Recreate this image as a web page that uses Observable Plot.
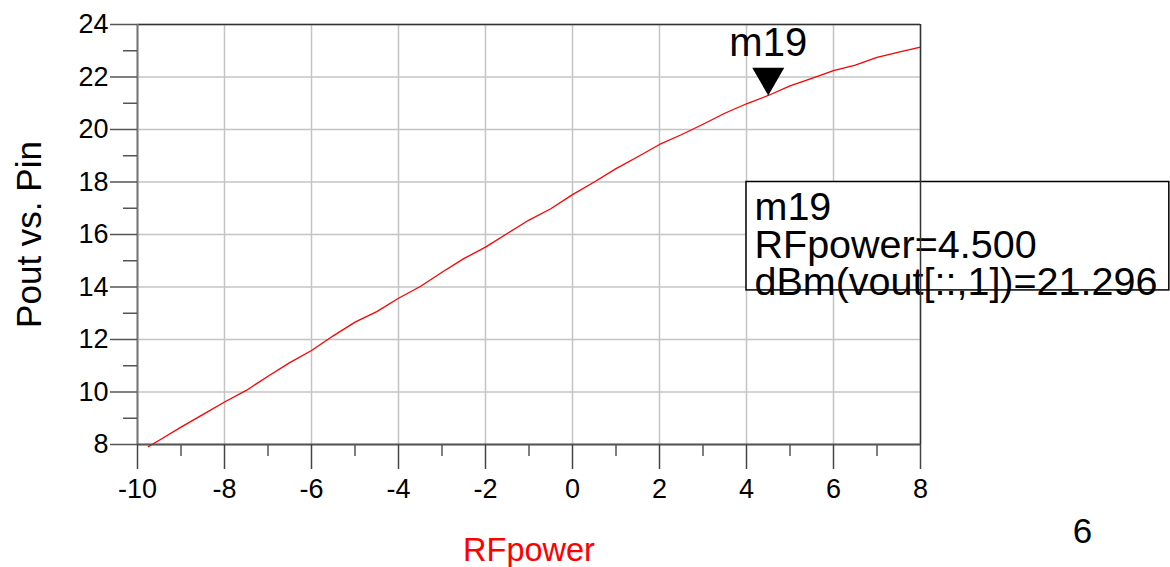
<!DOCTYPE html>
<html>
<head>
<meta charset="utf-8">
<script src="https://cdn.jsdelivr.net/npm/d3@7"></script>
<script src="https://cdn.jsdelivr.net/npm/@observablehq/plot@0.6"></script>
<style>
  html, body { margin: 0; padding: 0; background: #fff; }
  svg { display: block; }
</style>
</head>
<body>
<div id="chart"></div>
<script>
// ---- data ----
const rfPower = [-9.75, -9.5, -9, -8.5, -8, -7.5, -7, -6.5, -6, -5.5, -5, -4.5, -4, -3.5, -3, -2.5, -2, -1.5, -1, -0.5, 0, 0.5, 1, 1.5, 2, 2.5, 3, 3.5, 4, 4.5, 5, 5.5, 6, 6.5, 7, 7.5, 8];
const poutDbm = [7.92, 8.16, 8.66, 9.14, 9.62, 10.06, 10.6, 11.12, 11.58, 12.14, 12.66, 13.06, 13.57, 14.02, 14.56, 15.08, 15.52, 16.04, 16.55, 16.98, 17.52, 18.0, 18.51, 18.96, 19.43, 19.8, 20.2, 20.62, 20.98, 21.296, 21.66, 21.95, 22.24, 22.45, 22.75, 22.95, 23.14];
const xMajorTicks = [-10, -8, -6, -4, -2, 0, 2, 4, 6, 8];
const xMinorTicks = [-9, -7, -5, -3, -1, 1, 3, 5, 7];
const yMajorTicks = [8, 10, 12, 14, 16, 18, 20, 22, 24];
const yMinorTicks = [9, 11, 13, 15, 17, 19, 21, 23];
const markerName = "m19";
const markerX = 4.5;
const markerY = 21.296;
const readoutLines = [markerName, "RFpower=4.500", "dBm(vout[::,1])=21.296"];
const xTitle = "RFpower";
const yTitle = "Pout vs. Pin";
const pageNumber = "6";

const curve = rfPower.map((x, i) => ({x, y: poutDbm[i]}));
const marker = [{x: markerX, y: markerY}];
// readout box anchored at grid corner (x=4, y=18) and extended to the right
const box = [{x1: 4, y1: 18, x2: 13.72, y2: 13.87}];

const font = "'Liberation Sans', Arial, sans-serif";
const plain = d => String(d);

const readoutMarks = readoutLines.map((t, i) =>
  Plot.text([t], {
    x: () => box[0].x1, y: () => box[0].y1, text: d => d,
    textAnchor: "start", lineAnchor: "bottom", dx: 8,
    dy: 38 + i * 37.5, fontSize: 39.5, fill: "#000"
  })
);

const chart = Plot.plot({
  width: 1170,
  height: 567,
  marginLeft: 137,
  marginRight: 250,
  marginTop: 24,
  marginBottom: 123,
  style: {fontFamily: font, background: "#fff", color: "#000", overflow: "visible"},
  x: {domain: [-10, 8]},
  y: {domain: [8, 24]},
  marks: [
    Plot.gridX(xMajorTicks, {stroke: "#c4c4c4", strokeOpacity: 1, strokeWidth: 1.5}),
    Plot.gridY(yMajorTicks, {stroke: "#c4c4c4", strokeOpacity: 1, strokeWidth: 1.5}),
    Plot.line(curve, {x: "x", y: "y", stroke: "#ff0000", strokeWidth: 1.3}),
    Plot.rect(box, {x1: "x1", x2: "x2", y1: "y1", y2: "y2", fill: "#fff", stroke: "#000", strokeWidth: 1.5}),
    ...readoutMarks,
    Plot.ruleY([24], {stroke: "#333", strokeWidth: 1.5}),
    Plot.ruleX([8], {stroke: "#333", strokeWidth: 1.5}),
    Plot.ruleX([-10], {stroke: "#777", strokeWidth: 2}),
    Plot.ruleY([8], {stroke: "#555", strokeWidth: 2}),
    Plot.axisY(yMajorTicks, {tickSize: 27, tickPadding: 2, fontSize: 27, stroke: "#555", strokeWidth: 1.5, fill: "#000", label: null, tickFormat: plain}),
    Plot.axisY(yMinorTicks, {tickSize: 14, tickFormat: () => "", stroke: "#555", strokeWidth: 1.5, label: null}),
    Plot.axisX(xMajorTicks, {tickSize: 25, tickPadding: 9, fontSize: 27, stroke: "#444", strokeWidth: 1.5, fill: "#000", label: null, tickFormat: plain}),
    Plot.axisX(xMinorTicks, {tickSize: 12, tickFormat: () => "", stroke: "#555", strokeWidth: 1.5, label: null}),
    Plot.dot(marker, {x: "x", y: "y", symbol: "triangle", r: 11.9, rotate: 180, dy: -18.5, fill: "#000", stroke: "none"}),
    Plot.text(marker, {x: "x", y: "y", text: () => markerName, lineAnchor: "bottom", dy: -39, fontSize: 40, fill: "#000"}),
    Plot.text([yTitle], {frameAnchor: "left", textAnchor: "middle", dx: -108, rotate: -90, fontSize: 35, fill: "#000"}),
    Plot.text([xTitle], {frameAnchor: "bottom", textAnchor: "middle", lineAnchor: "bottom", dy: 116, fontSize: 32.5, fill: "#ff0000"}),
    Plot.text([pageNumber], {frameAnchor: "bottom-right", textAnchor: "middle", lineAnchor: "bottom", dx: 162, dy: 98, fontSize: 35, fill: "#000"})
  ]
});
document.getElementById("chart").appendChild(chart);
</script>
</body>
</html>
